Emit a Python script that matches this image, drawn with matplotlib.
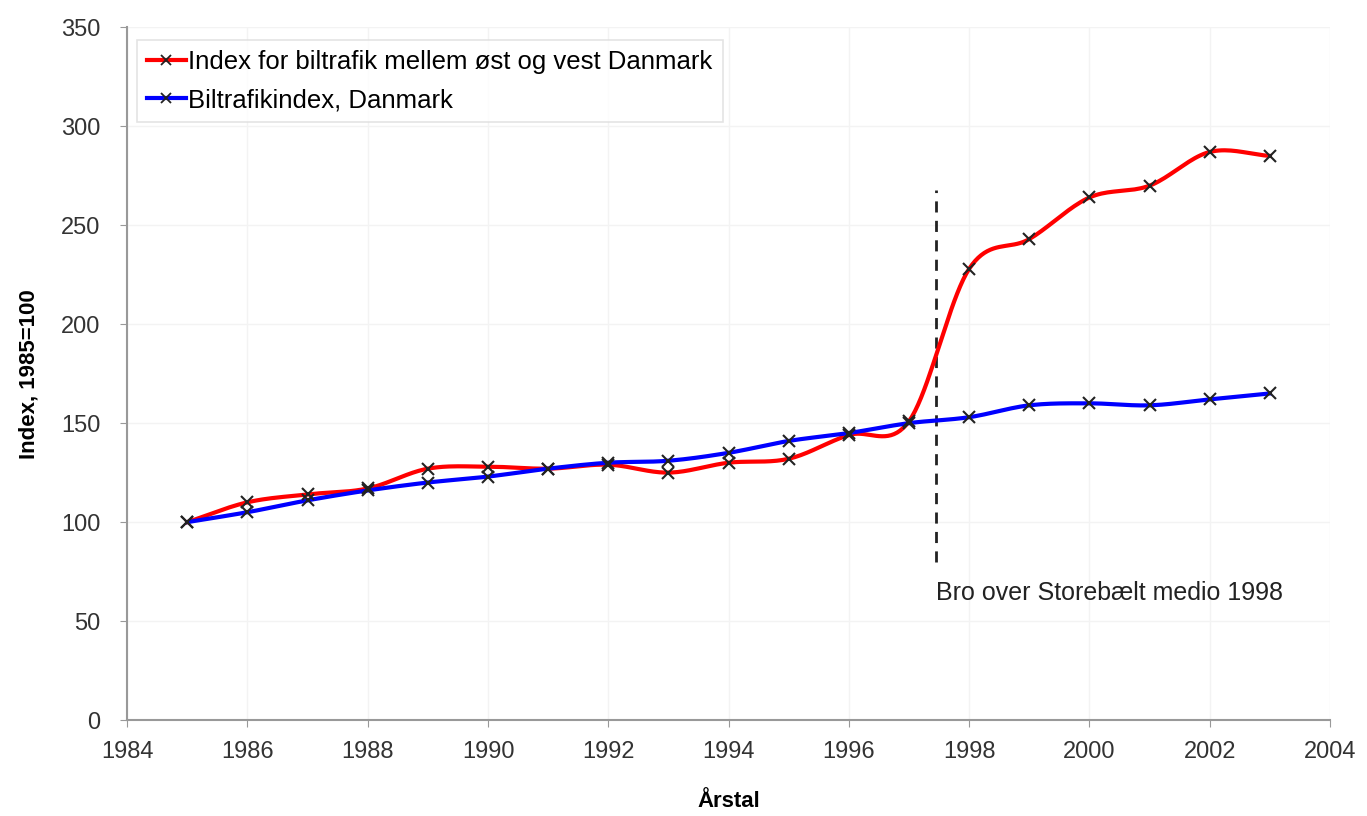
import matplotlib.pyplot as plt
import numpy as np

plt.rcParams["font.family"] = ["Liberation Sans", "DejaVu Sans"]

years = [1985, 1986, 1987, 1988, 1989, 1990, 1991, 1992, 1993, 1994,
         1995, 1996, 1997, 1998, 1999, 2000, 2001, 2002, 2003]
east_west = [100, 110, 114, 117, 127, 128, 127, 129, 125, 130,
             132, 144, 151, 228, 243, 264, 270, 287, 285]
denmark = [100, 105, 111, 116, 120, 123, 127, 130, 131, 135,
           141, 145, 150, 153, 159, 160, 159, 162, 165]

bridge_year = 1997.45
bridge_span = (80, 268)
bridge_text = "Bro over Storebælt medio 1998"


def smooth(x, y, steps=20):
    # Catmull-Rom curve through the points, like Excel's smoothed line
    x = np.asarray(x, float)
    y = np.asarray(y, float)
    px = np.concatenate([[2 * x[0] - x[1]], x, [2 * x[-1] - x[-2]]])
    py = np.concatenate([[2 * y[0] - y[1]], y, [2 * y[-1] - y[-2]]])
    t = np.linspace(0, 1, steps, endpoint=False)
    xs, ys = [], []
    for i in range(1, len(px) - 2):
        for p, out in ((px, xs), (py, ys)):
            p0, p1, p2, p3 = p[i - 1], p[i], p[i + 1], p[i + 2]
            out.extend(0.5 * (2 * p1 + (-p0 + p2) * t
                              + (2 * p0 - 5 * p1 + 4 * p2 - p3) * t ** 2
                              + (-p0 + 3 * p1 - 3 * p2 + p3) * t ** 3))
    xs.append(x[-1])
    ys.append(y[-1])
    return np.array(xs), np.array(ys)


fig = plt.figure(figsize=(13.67, 8.16), dpi=100)
ax = fig.add_axes([0.093, 0.1176, 0.88, 0.849])

for values, color, label in [
    (east_west, "#ff0000", "Index for biltrafik mellem øst og vest Danmark"),
    (denmark, "#0000ff", "Biltrafikindex, Danmark"),
]:
    sx, sy = smooth(years, values)
    ax.plot(sx, sy, color=color, linewidth=3, zorder=3)
    ax.plot(years, values, linestyle="none", marker="x", color="#222222",
            markersize=8, markeredgewidth=1.5, zorder=4)
    ax.plot([], [], color=color, linewidth=3, marker="x", markersize=7,
            markeredgecolor="#222222", markeredgewidth=1.3, label=label)

ax.plot([bridge_year, bridge_year], bridge_span, color="#222222",
        linestyle=(0, (4, 3)), linewidth=2, zorder=2)
ax.text(bridge_year, 64, bridge_text, fontsize=18, color="#222222",
        ha="left", va="center")

ax.set_xlim(1984, 2004)
ax.set_ylim(0, 350)
ax.set_xticks(range(1984, 2005, 2))
ax.set_yticks(range(0, 351, 50))
ax.tick_params(labelsize=17, colors="#333333", length=5, color="#999999")
ax.tick_params(axis="x", pad=10)
ax.tick_params(axis="y", pad=14)
ax.grid(True, color="#f3f3f3", linewidth=1)
ax.set_axisbelow(True)
for side in ("top", "right"):
    ax.spines[side].set_visible(False)
for side in ("left", "bottom"):
    ax.spines[side].set_color("#999999")
    ax.spines[side].set_linewidth(1.5)

ax.set_xlabel("Årstal", fontsize=16, fontweight="bold", labelpad=20)
ax.set_ylabel("Index, 1985=100", fontsize=16, fontweight="bold", labelpad=16)

leg = ax.legend(loc="upper left", bbox_to_anchor=(0.008, 0.982), fontsize=18.5,
                frameon=True, fancybox=False, handlelength=1.5,
                handletextpad=0.1, borderpad=0.4, labelspacing=0.55,
                borderaxespad=0)
leg.get_frame().set_edgecolor("#dddddd")
leg.get_frame().set_linewidth(1.2)

fig.savefig("out.png", dpi=100)
plt.close(fig)
